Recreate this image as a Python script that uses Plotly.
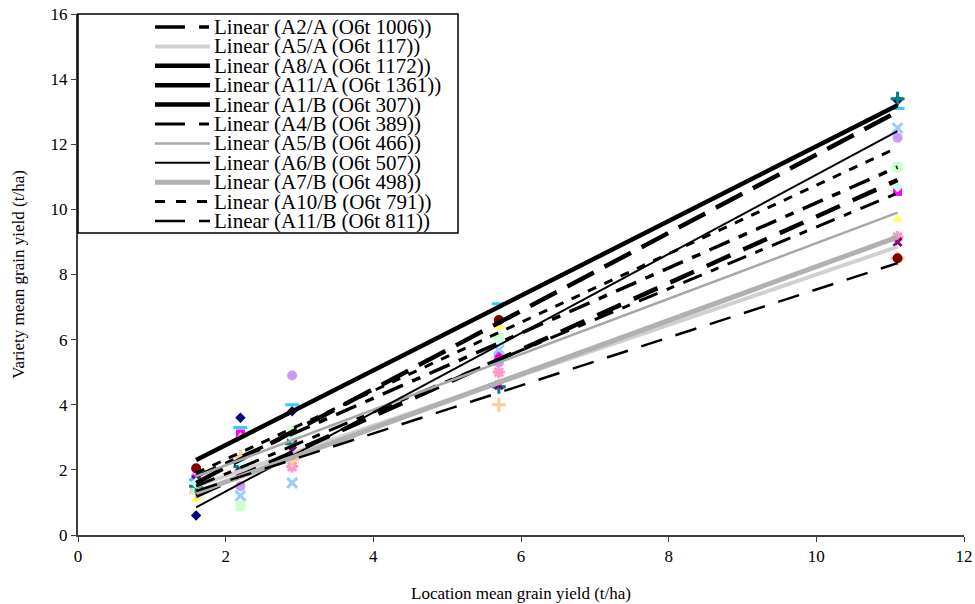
import plotly.graph_objects as go

# Location mean grain yield (x positions of the sites)
locations = [1.6, 2.2, 2.9, 5.7, 11.1]

# Variety mean yields (markers)
marker_names = ["A2/A", "A5/A", "A8/A", "A11/A", "A1/B", "A4/B", "A5/B", "A6/B",
                "A7/B", "A10/B", "A11/B", "S12", "S13"]
v_navy = [0.6, 3.6, 3.8, 5.8, 13.35]
v_magenta = [1.6, 3.1, 3.0, 5.5, 10.55]
v_yellow = [1.1, 3.0, 2.7, 6.4, 9.7]
v_ltblue = [1.5, 1.2, 1.6, 5.7, 12.5]
v_pink = [1.4, 2.0, 2.1, 5.0, 9.15]
v_lavender = [1.8, 1.5, 4.9, 5.3, 12.2]
v_tan = [1.3, 2.4, 2.3, 4.0, 8.5]
v_cyan = [1.7, 3.3, 4.0, 7.1, 13.1]
v_ltgreen = [1.4, 0.9, 3.2, 6.05, 11.3]
v_maroon = [2.05, 1.95, 2.9, 6.6, 8.5]
v_teal = [1.5, 2.1, 2.8, 4.55, 13.4]
v_purple = [1.7, 1.9, 2.6, 4.6, 9.0]
v_ltcyan = [1.6, 2.25, 3.0, 5.9, 10.7]

# Linear trend lines: value at first and last location
trend_names = ["Linear (A2/A (O6t 1006))", "Linear (A5/A (O6t 117))",
               "Linear (A8/A (O6t 1172))", "Linear (A11/A (O6t 1361))",
               "Linear (A1/B (O6t 307))", "Linear (A4/B (O6t 389))",
               "Linear (A5/B (O6t 466))", "Linear (A6/B (O6t 507))",
               "Linear (A7/B (O6t 498))", "Linear (A10/B (O6t 791))",
               "Linear (A11/B (O6t 811))"]
trend_start = [1.8, 1.5, 1.6, 2.3, 1.2, 1.5, 1.8, 0.85, 1.3, 1.9, 1.35]
trend_end = [11.3, 8.85, 13.0, 13.2, 10.9, 10.5, 9.9, 12.4, 9.15, 11.9, 8.35]

fig = go.Figure()

marker_series = [
    (v_navy, "diamond", "#000080", 8),
    (v_magenta, "square", "#FF00FF", 9),
    (v_yellow, "triangle-up", "#FFFF66", 10),
    (v_ltblue, "x-thin-open", "#99CCFF", 10),
    (v_pink, "asterisk-open", "#FF99CC", 10),
    (v_lavender, "circle", "#CC99FF", 10),
    (v_tan, "cross-thin-open", "#FFCC99", 10),
    (v_cyan, "line-ew-open", "#33CCFF", 10),
    (v_ltgreen, "square", "#CCFFCC", 10),
    (v_maroon, "circle", "#800000", 10),
    (v_teal, "cross-thin-open", "#008080", 10),
    (v_purple, "x-thin-open", "#800080", 8),
    (v_ltcyan, "diamond", "#CCFFFF", 9),
]
for (vals, sym, col, sz), nm in zip(marker_series, marker_names):
    open_sym = sym.endswith("open")
    fig.add_trace(go.Scatter(
        x=locations, y=vals, mode="markers", name=nm, showlegend=False,
        marker=dict(symbol=sym, size=sz, color=col,
                    line=dict(color=col, width=3 if open_sym else 0)),
    ))

trend_styles = [
    dict(color="black", width=3.5, dash="22px,10px,9px,10px"),
    dict(color="#D0D0D0", width=4, dash="solid"),
    dict(color="black", width=4.5, dash="30px,12px"),
    dict(color="black", width=4.5, dash="solid"),
    dict(color="black", width=4.5, dash="26px,14px"),
    dict(color="black", width=3, dash="20px,10px,8px,10px"),
    dict(color="#A8A8A8", width=2.5, dash="solid"),
    dict(color="black", width=2, dash="solid"),
    dict(color="#B0B0B0", width=5, dash="solid"),
    dict(color="black", width=3, dash="9px,9px"),
    dict(color="black", width=2.5, dash="22px,14px"),
]
legend_sample_dash = ["30px,14px,10px,10px", "solid", "solid", "solid", "solid",
                      "30px,14px,10px,10px", "solid", "solid", "solid",
                      "10px,11px", "30px,14px,12px,10px"]
for nm, s, e, st in zip(trend_names, trend_start, trend_end, trend_styles):
    fig.add_trace(go.Scatter(
        x=[locations[0], locations[-1]], y=[s, e], mode="lines", name=nm,
        line=st, showlegend=False,
    ))

# Manual legend box (Excel-style compact legend)
L, R, T, B = 78, 964, 14, 535
W, H = R - L, B - T
def px(x):
    return (x - L) / W
def py(y):
    return (B - y) / H

shapes = [dict(type="rect", xref="paper", yref="paper",
               x0=px(78), x1=px(458), y0=py(233), y1=py(14),
               fillcolor="white", line=dict(color="black", width=1.5), layer="above")]
annotations = []
font_family = "Liberation Serif, Times New Roman, serif"
for i, (nm, st, dsh) in enumerate(zip(trend_names, trend_styles, legend_sample_dash)):
    yc = 27 + i * 19.4
    shapes.append(dict(type="line", xref="paper", yref="paper",
                       x0=px(155), x1=px(210), y0=py(yc), y1=py(yc),
                       line=dict(color=st["color"], width=st["width"], dash=dsh),
                       layer="above"))
    annotations.append(dict(xref="paper", yref="paper", x=px(212), y=py(yc),
                            xanchor="left", yanchor="middle", showarrow=False,
                            text=nm, font=dict(family=font_family, size=21, color="black")))

fig.update_layout(
    width=975, height=604,
    margin=dict(l=L, r=975 - R, t=T, b=604 - B, autoexpand=False),
    paper_bgcolor="white", plot_bgcolor="white",
    font=dict(family=font_family, size=17, color="black"),
    showlegend=False,
    shapes=shapes, annotations=annotations,
    xaxis=dict(
        range=[0, 12], tickvals=[0, 2, 4, 6, 8, 10, 12],
        showgrid=False, zeroline=False, showline=True, linecolor="#404040",
        linewidth=2, ticks="outside", ticklen=5, tickcolor="#404040",
        tickfont=dict(size=17), automargin=False,
        title=dict(text="Location mean grain yield (t/ha)", font=dict(size=17), standoff=22),
    ),
    yaxis=dict(
        range=[0, 16], tickvals=list(range(0, 17, 2)),
        showgrid=False, zeroline=False, showline=True, linecolor="#404040",
        linewidth=2, ticks="outside", ticklen=5, tickcolor="#404040",
        tickfont=dict(size=17), automargin=False,
        title=dict(text="Variety mean grain yield (t/ha)", font=dict(size=17), standoff=22),
    ),
)

fig.write_html("out.html")
